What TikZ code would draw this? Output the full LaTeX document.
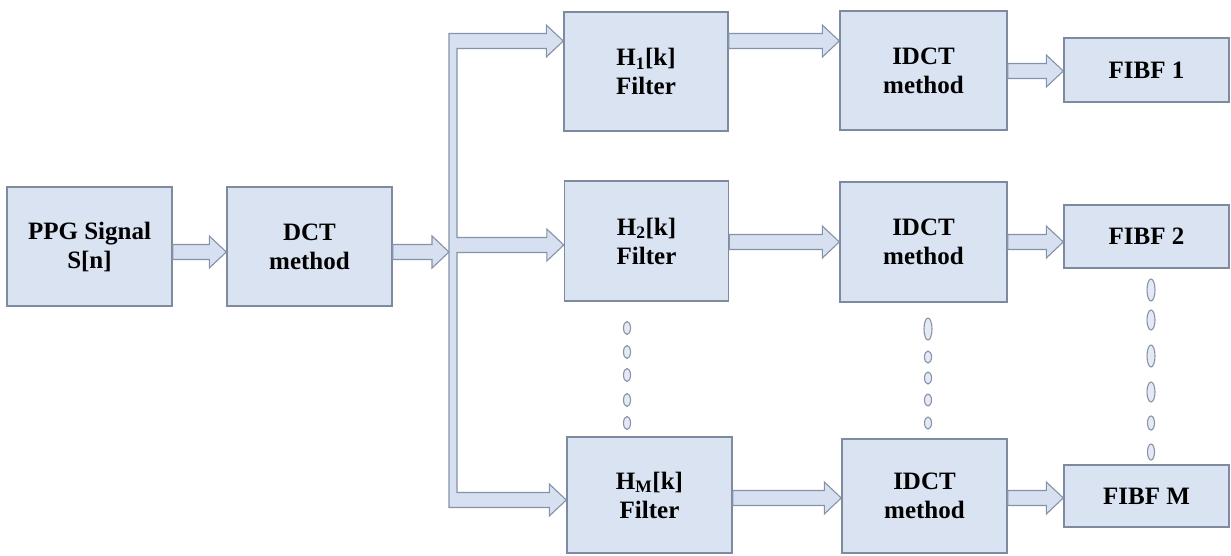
\documentclass[tikz,border=0pt]{standalone}
\usepackage{fontspec}
\setmainfont{Liberation Serif}
\usetikzlibrary{calc}

\definecolor{boxfill}{HTML}{DAE3F1}
\definecolor{boxline}{HTML}{7D8AA0}
\definecolor{arrfill}{HTML}{D6E0F1}
\definecolor{arrline}{HTML}{8592A8}
\definecolor{dotline}{HTML}{8A94A8}
\definecolor{dotfill}{HTML}{E4EAF5}

% block-arrow dimensions: half body width, half head width, head length
\def\bw{7.5pt}
\def\hw{16pt}
\def\hl{17pt}

% fat arrow from the east side of #1 to the west side of #2 at the height of row #3
\newcommand\blockarrow[3]{%
  \path[fatarrow] let \p1=(#1.east |- #3), \p2=(#2.west |- #3) in
    (\x1,\y1+\bw) -- (\x2-\hl,\y1+\bw) -- (\x2-\hl,\y1+\hw) -- (\x2,\y1)
    -- (\x2-\hl,\y1-\hw) -- (\x2-\hl,\y1-\bw) -- (\x1,\y1-\bw) -- cycle;}

\tikzset{
  blk/.style={draw=boxline, fill=boxfill, line width=1.4pt, align=center,
    inner sep=0pt, font=\fontsize{25}{29}\selectfont\bfseries},
  fatarrow/.style={draw=arrline, fill=arrfill, line width=1.1pt, line join=miter},
  vdot/.style={draw=dotline, fill=dotfill, line width=1.1pt},
}

\begin{document}
\begin{tikzpicture}[x=1pt, y=-1pt]
\useasboundingbox (0,0) rectangle (1231,555);

% processing blocks
\node[blk, minimum width=165, minimum height=119] (ppg) at (89.5,246.5) {PPG Signal\\S[n]};
\node[blk, minimum width=165, minimum height=119] (dct) at (309.5,246.5) {DCT\\method};

\node[blk, minimum width=164, minimum height=119] (h1) at (646,71.5) {H\textsubscript{1}[k]\\Filter};
\node[blk, minimum width=164, minimum height=120] (h2) at (646.5,241) {H\textsubscript{2}[k]\\Filter};
\node[blk, minimum width=165, minimum height=116] (hm) at (649.5,495) {H\textsubscript{M}[k]\\Filter};

\node[blk, minimum width=167, minimum height=119] (i1) at (923.5,70.5) {IDCT\\method};
\node[blk, minimum width=167, minimum height=120] (i2) at (923.5,242) {IDCT\\method};
\node[blk, minimum width=165, minimum height=114] (im) at (924.5,496) {IDCT\\method};

\node[blk, minimum width=165, minimum height=64] (f1) at (1146.5,70) {FIBF 1};
\node[blk, minimum width=165, minimum height=63] (f2) at (1146.5,236.5) {FIBF 2};
\node[blk, minimum width=165, minimum height=62] (fm) at (1146.5,496) {FIBF M};

% row heights of the arrows
\coordinate (r0) at (0,252);
\coordinate (ra) at (0,41);
\coordinate (rb) at (0,71);
\coordinate (rc) at (0,245);
\coordinate (rd) at (0,242);
\coordinate (re) at (0,500);
\coordinate (rf) at (0,498);

% distribution bus
\coordinate (busL) at (449,0);
\coordinate (busR) at (457,0);

\blockarrow{ppg}{dct}{r0}
\path[fatarrow] let \p1=(dct.east |- r0), \p2=(busL |- r0) in
    (\x1,\y1+\bw) -- (\x2-\hl,\y1+\bw) -- (\x2-\hl,\y1+\hw) -- (\x2,\y1)
    -- (\x2-\hl,\y1-\hw) -- (\x2-\hl,\y1-\bw) -- (\x1,\y1-\bw) -- cycle;

\path[fatarrow] let \p1=(busL), \p2=(busR),
    \p3=(h1.west |- ra), \p4=(h2.west |- rc), \p5=(hm.west |- re) in
    (\x1,\y3+\bw) -- (\x3-\hl,\y3+\bw) -- (\x3-\hl,\y3+\hw) -- (\x3,\y3)
    -- (\x3-\hl,\y3-\hw) -- (\x3-\hl,\y3-\bw) -- (\x2,\y3-\bw)
    -- (\x2,\y4+\bw) -- (\x4-\hl,\y4+\bw) -- (\x4-\hl,\y4+\hw) -- (\x4,\y4)
    -- (\x4-\hl,\y4-\hw) -- (\x4-\hl,\y4-\bw) -- (\x2,\y4-\bw)
    -- (\x2,\y5+\bw) -- (\x5-\hl,\y5+\bw) -- (\x5-\hl,\y5+\hw) -- (\x5,\y5)
    -- (\x5-\hl,\y5-\hw) -- (\x5-\hl,\y5-\bw) -- (\x1,\y5-\bw) -- cycle;

\blockarrow{h1}{i1}{ra}
\blockarrow{h2}{i2}{rd}
\blockarrow{hm}{im}{rf}

\blockarrow{i1}{f1}{rb}
\blockarrow{i2}{f2}{rd}
\blockarrow{im}{fm}{rf}

% ellipsis marks between the rows
\foreach \y in {328,352,375,400,423}
  \draw[vdot] (627,\y) ellipse (3.5 and 6.5);

\draw[vdot] (928,329) ellipse (4 and 11);
\foreach \y in {357,378,400,423}
  \draw[vdot] (928,\y) ellipse (3.5 and 6);

\draw[vdot] (1151,290) ellipse (4 and 11);
\draw[vdot] (1151,320) ellipse (4 and 10);
\draw[vdot] (1151,356) ellipse (4 and 11);
\draw[vdot] (1151,392) ellipse (4 and 10);
\draw[vdot] (1151,423) ellipse (3.5 and 7);
\draw[vdot] (1151,452) ellipse (3.5 and 8);
\end{tikzpicture}
\end{document}
